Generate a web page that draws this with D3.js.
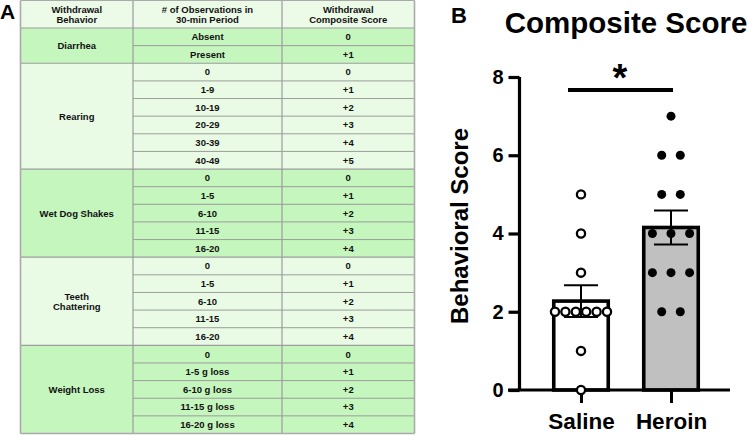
<!DOCTYPE html>
<html><head><meta charset="utf-8">
<script src="https://cdn.jsdelivr.net/npm/d3@7"></script>
<style>
html,body{margin:0;padding:0;background:#fff;}
svg{display:block;font-family:"Liberation Sans",Arial,Helvetica,sans-serif;}
</style></head>
<body><svg id="c" width="749" height="435"></svg>
<script>
// ---------- Panel A data ----------
const headers = [["Withdrawal","Behavior"],["# of Observations in","30-min Period"],["Withdrawal","Composite Score"]];
const behaviors = [["Diarrhea"],["Rearing"],["Wet Dog Shakes"],["Teeth","Chattering"],["Weight Loss"]];
const observationRanges = [
  ["Absent","Present"],
  ["0","1-9","10-19","20-29","30-39","40-49"],
  ["0","1-5","6-10","11-15","16-20"],
  ["0","1-5","6-10","11-15","16-20"],
  ["0","1-5 g loss","6-10 g loss","11-15 g loss","16-20 g loss"]
];
const compositeScores = [
  ["0","+1"],
  ["0","+1","+2","+3","+4","+5"],
  ["0","+1","+2","+3","+4"],
  ["0","+1","+2","+3","+4"],
  ["0","+1","+2","+3","+4"]
];
// ---------- Panel B data ----------
const categories = ["Saline","Heroin"];
const salineScores = [5,4,3,2,2,2,2,2,2,1,0];
const heroinScores = [7,6,6,5,5,4,4,4,3,3,3,2,2];
const yTicks = [0,2,4,6,8];

const svg = d3.select("#c");

// ================= Panel A (table) =================
const colEdges = [20.5, 133, 282, 414.5];
const nRows = d3.sum(observationRanges, d => d.length);
const rowY = d3.scaleLinear().domain([0, nRows]).range([28, 433.5]);
const headerTop = 0.5;
const lineCol = "#9c9c9c";
const darkFill = "#c5f6bd", lightFill = "#e9fbe5", headFill = "#ecfbe8";
const tbl = svg.append("g").attr("font-weight","bold").attr("fill","#111").attr("font-size","9.5px");

// header
tbl.append("rect").attr("x",colEdges[0]).attr("y",headerTop).attr("width",colEdges[3]-colEdges[0]).attr("height",rowY(0)-headerTop).attr("fill",headFill);
headers.forEach((h,i)=>{
  const cx=(colEdges[i]+colEdges[i+1])/2;
  const t=tbl.append("text").attr("text-anchor","middle").attr("x",cx).attr("y",12.5);
  h.forEach((line,k)=>t.append("tspan").attr("x",cx).attr("dy",k===0?0:10).text(line));
});
// groups
let start=0;
const groupInfo=behaviors.map((b,g)=>{const o={g,start,n:observationRanges[g].length};start+=o.n;return o;});
groupInfo.forEach(({g,start,n})=>{
  const y0=rowY(start), y1=rowY(start+n);
  const fill = g%2===0?darkFill:lightFill;
  tbl.append("rect").attr("x",colEdges[0]).attr("y",y0).attr("width",colEdges[3]-colEdges[0]).attr("height",y1-y0).attr("fill",fill);
  const cx=(colEdges[0]+colEdges[1])/2, cy=(y0+y1)/2;
  const lines=behaviors[g];
  const t=tbl.append("text").attr("text-anchor","middle").attr("x",cx).attr("y",cy+3.4-(lines.length-1)*5);
  lines.forEach((l,k)=>t.append("tspan").attr("x",cx).attr("dy",k===0?0:10).text(l));
  observationRanges[g].forEach((r,k)=>{
    const ry=(rowY(start+k)+rowY(start+k+1))/2+3.4;
    tbl.append("text").attr("text-anchor","middle").attr("x",(colEdges[1]+colEdges[2])/2).attr("y",ry).text(r);
    tbl.append("text").attr("text-anchor","middle").attr("x",(colEdges[2]+colEdges[3])/2).attr("y",ry).text(compositeScores[g][k]);
    if(k>0){
      tbl.append("line").attr("x1",colEdges[1]).attr("x2",colEdges[3]).attr("y1",rowY(start+k)).attr("y2",rowY(start+k)).attr("stroke",lineCol).attr("stroke-width",1);
    }
  });
  tbl.append("line").attr("x1",colEdges[0]).attr("x2",colEdges[3]).attr("y1",y0).attr("y2",y0).attr("stroke",lineCol).attr("stroke-width",1.2);
});
colEdges.forEach((x,i)=>{
  tbl.append("line").attr("x1",x).attr("x2",x).attr("y1",headerTop).attr("y2",rowY(nRows)).attr("stroke",i===0||i===3?"#aaaaaa":lineCol).attr("stroke-width",i===0||i===3?1.6:1.2);
});
tbl.append("line").attr("x1",colEdges[0]).attr("x2",colEdges[3]).attr("y1",headerTop).attr("y2",headerTop).attr("stroke","#aaaaaa").attr("stroke-width",1.2);
tbl.append("line").attr("x1",colEdges[0]).attr("x2",colEdges[3]).attr("y1",rowY(nRows)).attr("y2",rowY(nRows)).attr("stroke","#aaaaaa").attr("stroke-width",1.4);

svg.append("text").attr("x",0).attr("y",19).attr("font-size","21px").attr("font-weight","bold").text("A");

// ================= Panel B (chart) =================
svg.append("text").attr("x",451).attr("y",23).attr("font-size","22px").attr("font-weight","bold").text("B");
svg.append("text").attr("x",626).attr("y",33).attr("text-anchor","middle").attr("font-size","29.5px").attr("font-weight","bold").text("Composite Score");

const y = d3.scaleLinear().domain([0,8]).range([390,77]);
const x = d3.scalePoint().domain(categories).range([581,671]);
const groupsData = [
  {cat:"Saline", vals:salineScores, fill:"#ffffff", spacing:10.4, open:true},
  {cat:"Heroin", vals:heroinScores, fill:"#c0c0c0", spacing:18.6, open:false}
];
groupsData.forEach(d=>{
  d.mean=d3.mean(d.vals);
  d.sem=d3.deviation(d.vals)/Math.sqrt(d.vals.length);
});
const barW=54.5;
const g=svg.append("g");
// bars
g.selectAll("rect.bar").data(groupsData).join("rect").attr("class","bar")
  .attr("x",d=>x(d.cat)-barW/2).attr("width",barW)
  .attr("y",d=>y(d.mean)).attr("height",d=>y(0)-y(d.mean))
  .attr("fill",d=>d.fill).attr("stroke","#000").attr("stroke-width",3.6);
// error bars
const capW=34;
groupsData.forEach(d=>{
  const cx=x(d.cat);
  g.append("line").attr("x1",cx).attr("x2",cx).attr("y1",y(d.mean+d.sem)).attr("y2",y(d.mean-d.sem)).attr("stroke","#000").attr("stroke-width",2);
  [d.mean+d.sem,d.mean-d.sem].forEach(v=>{
    g.append("line").attr("x1",cx-capW/2).attr("x2",cx+capW/2).attr("y1",y(v)).attr("y2",y(v)).attr("stroke","#000").attr("stroke-width",2);
  });
});
// axes
const yAxis=d3.axisLeft(y).tickValues(yTicks).tickSize(11).tickSizeOuter(0).tickPadding(5);
const ya=g.append("g").attr("transform","translate(519.5,0)").call(yAxis);
ya.select(".domain").attr("stroke-width",3.2).attr("d",`M0,${y(8)}V${y(0)}`);
ya.selectAll(".tick line").attr("stroke-width",3.2);
ya.selectAll(".tick text").attr("font-size","20px").attr("font-weight","bold").attr("fill","#000").attr("font-family","Liberation Sans, Arial, sans-serif");
g.append("line").attr("x1",508).attr("x2",730).attr("y1",y(0)).attr("y2",y(0)).attr("stroke","#000").attr("stroke-width",3.2);
const xAxis=d3.axisBottom(x).tickSize(13).tickSizeOuter(0).tickPadding(10);
const xa=g.append("g").attr("transform",`translate(0,${y(0)})`).call(xAxis);
xa.select(".domain").remove();
xa.selectAll(".tick line").attr("stroke-width",3);
xa.selectAll(".tick text").attr("font-size","22.5px").attr("font-weight","bold").attr("fill","#000").attr("font-family","Liberation Sans, Arial, sans-serif");

// points
groupsData.forEach(d=>{
  const counts=d3.rollup(d.vals,v=>v.length,v=>v);
  const seen=new Map();
  const pts=d.vals.map(v=>{const k=seen.get(v)||0;seen.set(v,k+1);const n=counts.get(v);return {v,off:(k-(n-1)/2)*d.spacing};});
  g.selectAll(null).data(pts).join("circle")
    .attr("cx",p=>x(d.cat)+p.off).attr("cy",p=>y(p.v))
    .attr("r",d.open?4.1:4.5)
    .attr("fill",d.open?"#fff":"#000")
    .attr("stroke","#000").attr("stroke-width",d.open?2.3:0);
});

// y label
svg.append("text").attr("transform","translate(468,226) rotate(-90)").attr("text-anchor","middle")
  .attr("font-size","24px").attr("font-weight","bold").text("Behavioral Score");

// significance
g.append("line").attr("x1",x("Saline")-13).attr("x2",x("Heroin")+2).attr("y1",90).attr("y2",90).attr("stroke","#000").attr("stroke-width",4);
svg.append("text").attr("x",620).attr("y",91).attr("text-anchor","middle").attr("font-size","38px").attr("font-weight","bold").text("*");
</script></body></html>
